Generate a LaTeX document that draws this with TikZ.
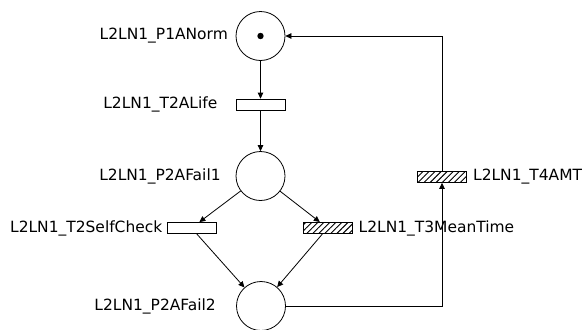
\documentclass[tikz,border=0pt]{standalone}
\usepackage{fontspec}
\setmainfont{DejaVu Sans}
\usetikzlibrary{positioning,arrows.meta,patterns.meta}
\tikzset{
  place/.style={draw, circle, minimum size=36.75pt, inner sep=0pt, line width=0.6pt},
  transition/.style={draw, rectangle, minimum width=36.75pt, minimum height=8.25pt, inner sep=0pt, line width=0.6pt},
  timed/.style={transition, pattern={Lines[angle=45,distance=3.2pt,line width=0.7pt]}},
  lbl/.style={inner sep=0pt, font=\fontsize{11.6pt}{13pt}\selectfont},
  arc/.style={line width=0.6pt, -{Triangle[length=4.5pt,width=4.2pt]}}
}
\begin{document}
\begin{tikzpicture}[x=0.75pt, y=-0.75pt]
    \useasboundingbox (0,0) rectangle (584,329);

    % Places and transitions
    \node[place] (p1norm) at (260.5,36) {};
    \fill (p1norm.center) circle (2.4pt);
    \node[transition] (t2life) at (260.5,104.5) {};
    \node[place] (p2fail1) at (260.5,176) {};
    \node[transition] (t2check) at (191.5,228) {};
    \node[timed] (t3mean) at (327.5,228) {};
    \node[place] (p2fail2) at (261,306) {};
    \node[timed] (t4amt) at (442,177) {};

    % Labels
    \node[lbl, left=5.6pt of p1norm] (p1normlbl) {L2LN1\_P1ANorm};
    \node[lbl, left=13.5pt of t2life] (t2lifelbl) {L2LN1\_T2ALife};
    \node[lbl, left=11pt of p2fail1] (p2fail1lbl) {L2LN1\_P2AFail1};
    \node[lbl, left=3pt of t2check] (t2checklbl) {L2LN1\_T2SelfCheck};
    \node[lbl, right=4.5pt of t3mean] (t3meanlbl) {L2LN1\_T3MeanTime};
    \node[lbl, left=15pt of p2fail2] (p2fail2lbl) {L2LN1\_P2AFail2};
    \node[lbl, right=4.5pt of t4amt] (t4amtlbl) {L2LN1\_T4AMT};

    % Arcs
    \draw[arc] (p1norm) -- (t2life);
    \draw[arc] (t2life) -- (p2fail1);
    \draw[arc] (p2fail1) -- (t2check);
    \draw[arc] (p2fail1) -- (t3mean);
    \draw[arc] (t2check) -- (p2fail2);
    \draw[arc] (t3mean) -- (p2fail2);
    \draw[arc] (p2fail2.east) -| (t4amt.south);
    \draw[arc] (t4amt.north) |- (p1norm.east);
\end{tikzpicture}
\end{document}
